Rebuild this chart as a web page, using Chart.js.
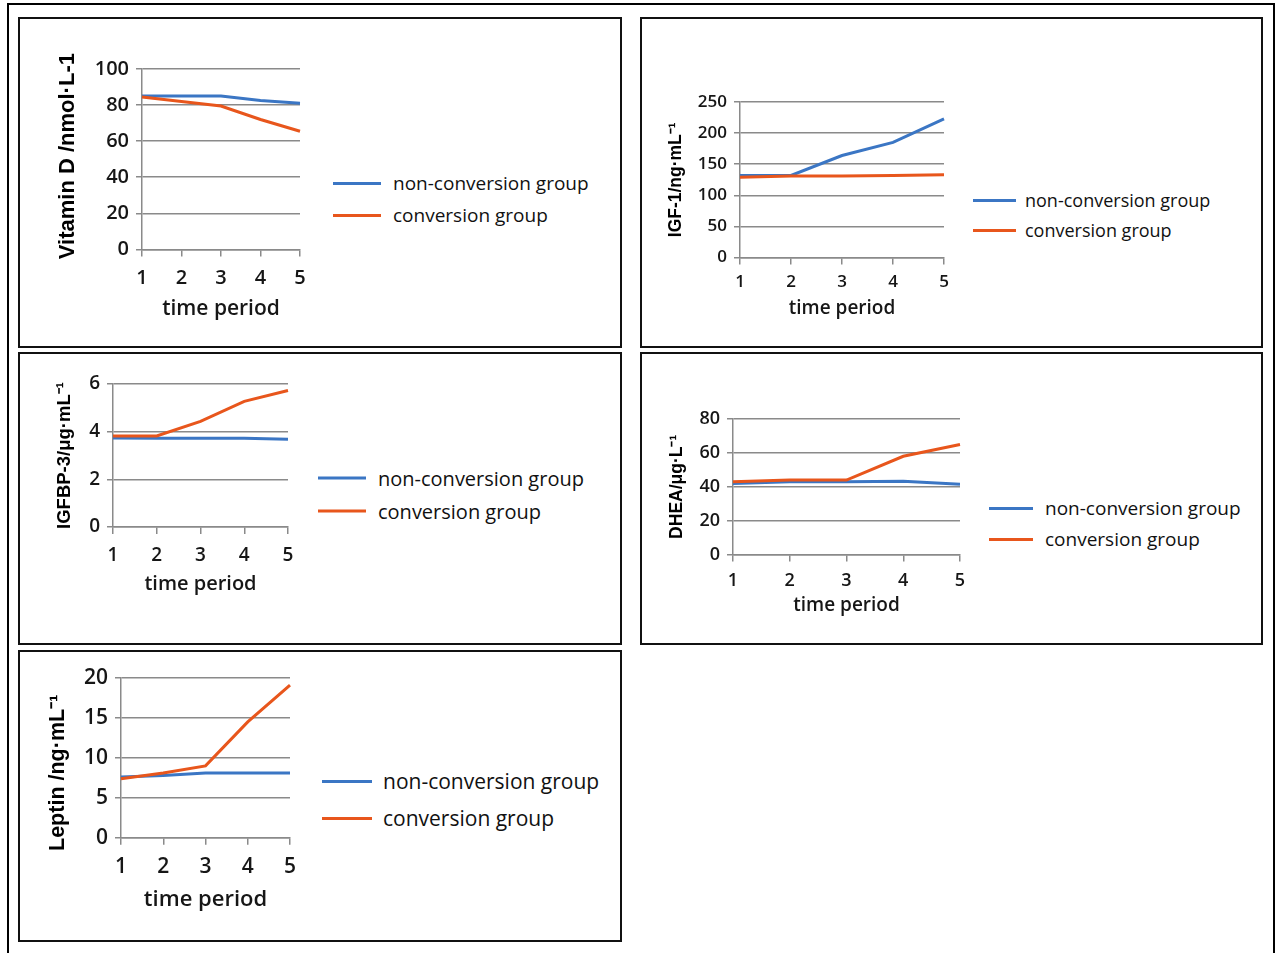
<!DOCTYPE html>
<html>
<head>
<meta charset="utf-8">
<script src="https://cdn.jsdelivr.net/npm/chart.js@4.4.1/dist/chart.umd.min.js"></script>
<style>
  body { margin: 0; background: #fff; width: 1276px; height: 953px; position: relative; overflow: hidden; font-family: "Open Sans", sans-serif; }
  #frame { position: absolute; left: 7px; top: 3px; width: 1264px; height: 960px; border: 2px solid #000; border-bottom: none; }
  .panel { position: absolute; border: 2px solid #111; box-sizing: border-box; }
  canvas { position: absolute; }
  .legend { position: absolute; color: #111; white-space: nowrap; font-weight: 500; }
  .legend .row { position: absolute; left: 0; display: flex; align-items: center; transform: translateY(-50%); }
  .legend .swatch { display: inline-block; height: 3px; }
</style>
</head>
<body>
<div id="frame"></div>

<script>
  // ---- data ----
  const periods = ['1', '2', '3', '4', '5'];
  const seriesNames = ['non-conversion group', 'conversion group'];

  const vitDNon  = [85, 85, 85, 82.5, 81];
  const vitDConv = [84.5, 82, 79.5, 72, 65.5];
  const vitDTicks = [0, 20, 40, 60, 80, 100];

  const igf1Non  = [132, 132, 164, 185, 223];
  const igf1Conv = [129, 131, 131, 132, 133];
  const igf1Ticks = [0, 50, 100, 150, 200, 250];

  const igfbp3Non  = [3.73, 3.72, 3.72, 3.72, 3.68];
  const igfbp3Conv = [3.82, 3.82, 4.43, 5.27, 5.73];
  const igfbp3Ticks = [0, 2, 4, 6];

  const dheaNon  = [42, 43, 43, 43.3, 41.5];
  const dheaConv = [43, 44, 44, 58, 65];
  const dheaTicks = [0, 20, 40, 60, 80];

  const leptinNon  = [7.6, 7.8, 8.1, 8.1, 8.1];
  const leptinConv = [7.4, 8.1, 9.0, 14.5, 19.1];
  const leptinTicks = [0, 5, 10, 15, 20];

  const BLUE = '#3b76c4';
  const ORANGE = '#e8561c';
  const GRID = '#8a8a8a';
  const TEXT = '#161616';

  // ---- layout per panel ----
  // yShift: spaces added so the rotated title sits off-centre like the original
  const panels = [
    { box: [18, 17, 604, 331], plot: [142, 69, 300, 249], yTitle: 'Vitamin D /nmol·L-1', yShift: -1, yTitleX: 68, yTitleSize: 22,
      xTitleY: 309, xTitleSize: 21, tickSize: 20, xLabelY: 279,
      legend: { x: 333, y: [183, 215], line: 48, gap: 12, size: 19 },
      non: vitDNon, conv: vitDConv, ticks: vitDTicks },
    { box: [640, 17, 623, 331], plot: [740, 102, 944, 258], yTitle: 'IGF-1/ng·mL⁻¹', yShift: 0, yTitleX: 676, yTitleSize: 17.5,
      xTitleY: 309, xTitleSize: 19, tickSize: 17, xLabelY: 283,
      legend: { x: 973, y: [200, 230], line: 43, gap: 9, size: 18 },
      non: igf1Non, conv: igf1Conv, ticks: igf1Ticks },
    { box: [18, 352, 604, 293], plot: [113, 384, 288, 527], yTitle: 'IGFBP-3/μg·mL⁻¹', yShift: 0, yTitleX: 65, yTitleSize: 18.5,
      xTitleY: 584, xTitleSize: 20, tickSize: 19, xLabelY: 556,
      legend: { x: 318, y: [478, 511], line: 48, gap: 12, size: 20 },
      non: igfbp3Non, conv: igfbp3Conv, ticks: igfbp3Ticks },
    { box: [640, 352, 623, 293], plot: [733, 419, 960, 555], yTitle: 'DHEA/μg·L⁻¹', yShift: 0, yTitleX: 677, yTitleSize: 17.5,
      xTitleY: 606, xTitleSize: 19, tickSize: 18, xLabelY: 581,
      legend: { x: 989, y: [508, 539], line: 44, gap: 12, size: 19 },
      non: dheaNon, conv: dheaConv, ticks: dheaTicks },
    { box: [18, 650, 604, 292], plot: [121, 678, 290, 838], yTitle: 'Leptin /ng·mL⁻¹', yShift: 5, yTitleX: 58, yTitleSize: 21.5,
      xTitleY: 900, xTitleSize: 22, tickSize: 21, xLabelY: 868,
      legend: { x: 322, y: [781, 818], line: 50, gap: 11, size: 21 },
      non: leptinNon, conv: leptinConv, ticks: leptinTicks }
  ];

  const PAD_TOP = 22, PAD_RIGHT = 20, TICK_LEN = 6;

  function shiftTitle(text, n) {
    if (n > 0) return text + ' '.repeat(n);
    if (n < 0) return ' '.repeat(-n) + text;
    return text;
  }

  panels.forEach(p => {
    const box = document.createElement('div');
    box.className = 'panel';
    Object.assign(box.style, { left: p.box[0] + 'px', top: p.box[1] + 'px', width: p.box[2] + 'px', height: p.box[3] + 'px' });
    document.body.appendChild(box);

    const [x0, y0, x1, y1] = p.plot;
    const yLh = p.yTitleSize * 1.2, xLh = p.xTitleSize * 1.2;
    const left = Math.round(p.yTitleX - yLh / 2);
    const top = y0 - PAD_TOP;
    const yW = x0 - left;
    const xH = p.xTitleY - y1 + xLh / 2;
    const w = x1 - left + PAD_RIGHT;
    const h = Math.round(y1 - top + xH);

    const canvas = document.createElement('canvas');
    canvas.width = w; canvas.height = h;
    Object.assign(canvas.style, { left: left + 'px', top: top + 'px', width: w + 'px', height: h + 'px' });
    document.body.appendChild(canvas);

    const tickFont = { family: 'Open Sans', size: p.tickSize, weight: '600' };
    const xPad = Math.round(p.xLabelY - y1 - TICK_LEN - p.tickSize * 0.68);

    new Chart(canvas, {
      type: 'line',
      data: {
        labels: periods,
        datasets: [
          { label: seriesNames[0], data: p.non, borderColor: BLUE, borderWidth: 3, pointRadius: 0, tension: 0, order: 1 },
          { label: seriesNames[1], data: p.conv, borderColor: ORANGE, borderWidth: 3, pointRadius: 0, tension: 0, order: 0 }
        ]
      },
      options: {
        responsive: false,
        animation: false,
        layout: { padding: { top: PAD_TOP, right: PAD_RIGHT, left: 0, bottom: 0 } },
        plugins: { legend: { display: false }, tooltip: { enabled: false } },
        scales: {
          x: {
            grid: { drawOnChartArea: false, drawTicks: true, tickLength: 7, color: GRID, lineWidth: 1.5 },
            border: { color: GRID, width: 1.5 },
            ticks: { font: tickFont, color: TEXT, padding: xPad, maxRotation: 0 },
            title: { display: true, text: 'time period', font: { family: 'Open Sans', size: p.xTitleSize, weight: '600' }, color: TEXT, padding: 0 },
            afterFit: s => { s.height = xH; }
          },
          y: {
            min: p.ticks[0],
            max: p.ticks[p.ticks.length - 1],
            ticks: { stepSize: p.ticks[1] - p.ticks[0], font: tickFont, color: TEXT, padding: 7 },
            grid: { color: GRID, lineWidth: 1.5, tickLength: TICK_LEN },
            border: { color: GRID, width: 1.5 },
            title: { display: true, text: shiftTitle(p.yTitle, p.yShift), font: { family: 'Liberation Sans', size: p.yTitleSize, weight: 'bold' }, color: '#000', padding: 0 },
            afterFit: s => { s.width = yW; }
          }
        }
      }
    });

    // legend built from the dataset labels
    const lg = document.createElement('div');
    lg.className = 'legend';
    Object.assign(lg.style, { left: p.legend.x + 'px', top: '0px', fontSize: p.legend.size + 'px' });
    [BLUE, ORANGE].forEach((c, k) => {
      const row = document.createElement('div');
      row.className = 'row';
      row.style.top = p.legend.y[k] + 'px';
      row.innerHTML = '<span class="swatch" style="width:' + p.legend.line + 'px;background:' + c +
        ';margin-right:' + p.legend.gap + 'px"></span><span>' + seriesNames[k] + '</span>';
      lg.appendChild(row);
    });
    document.body.appendChild(lg);
  });
</script>
</body>
</html>
